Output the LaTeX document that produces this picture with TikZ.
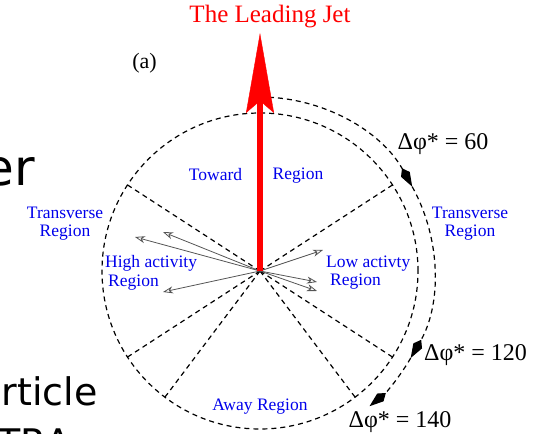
\documentclass[tikz,border=0pt]{standalone}
\usepackage{fontspec}
\setmainfont{Liberation Serif}
\newfontfamily\slidefont{DejaVu Sans}
\usetikzlibrary{arrows.meta}
\definecolor{jetred}{RGB}{255,0,0}
\definecolor{regionblue}{RGB}{0,0,235}
\definecolor{trackgray}{RGB}{85,85,85}

\begin{document}
\begin{tikzpicture}[
    x=1pt, y=1pt,
    line join=round,
    lbl/.style={font=\fontsize{17.5}{18.5}\selectfont, text=regionblue, inner sep=0pt},
    dphi/.style={font=\fontsize{24}{28}\selectfont, inner sep=0pt, anchor=base},
    slide/.style={font=\slidefont\fontsize{50}{50}\selectfont, inner sep=0pt},
    boundary/.style={dash pattern=on 5pt off 4pt, line width=1.2pt},
    track/.style={trackgray, line width=0.8pt,
        -{Stealth[open, length=10pt, width=7pt, inset=3pt]}},
    sweep/.style={boundary, -{Kite[length=21pt, width=10pt, inset=7pt]}},
]

% ── Adjustable parameters ───────────────────────────────────────────────────
\def\Rin{158}   % radius of the region circle [pt]
\def\Rout{174}  % radius of the delta-phi sweep [pt]
\def\thb{33}    % region boundaries above/below horizontal [degrees]

\useasboundingbox (-260,-162) rectangle (274,271);
\clip (-260,-162) rectangle (274,271);

% Jet axis origin = centre of the circle
\coordinate (O) at (0,0);

% ── Left-over slide text ────────────────────────────────────────────────────
\node[slide, anchor=base east] (er) at (-225,85) {er};
\node[slide, font=\slidefont\fontsize{38}{38}\selectfont, anchor=base east]
    (article) at (-162,-134) {rticle};
\node[slide, font=\slidefont\fontsize{38}{38}\selectfont, anchor=base west]
    (tra) at (-263,-185) {TRA};

% ── Region circle and boundaries ────────────────────────────────────────────
\draw[boundary] (O) circle[radius=\Rin];
\foreach \a [count=\i] in {\thb, 180-\thb, 180+\thb, -\thb, 233, -53} {
    \coordinate (B\i) at ({\a}:\Rin);
    \draw[boundary] (O) -- (B\i);
}

% ── Delta-phi sweep ─────────────────────────────────────────────────────────
\coordinate (S0) at (90:\Rout);
\draw[sweep] (S0) arc[start angle=90, end angle=29, radius=\Rout]
    coordinate (S60);
\draw[sweep] (S60) arc[start angle=29, end angle=-30, radius=\Rout]
    coordinate (S120);
\draw[sweep] (S120) arc[start angle=-30, end angle=-51, radius=\Rout]
    coordinate (S140);

% ── Particle tracks ─────────────────────────────────────────────────────────
\coordinate (L1) at (-125,34);
\coordinate (L2) at (-97,39);
\coordinate (L3) at (-97,-21);
\coordinate (R1) at (63,21);
\coordinate (R2) at (57,-11);
\coordinate (R3) at (57,-20);
\foreach \t in {L1,L2,L3,R1,R2,R3}
    \draw[track] (O) -- (\t);

% ── Leading jet ─────────────────────────────────────────────────────────────
\coordinate (J) at (0,238);
\draw[jetred, line width=6pt,
    -{Stealth[length=80pt, width=28pt, inset=12pt, line width=0.4pt]}]
    (O) -- (J);
\node[font=\fontsize{25}{28}\selectfont, text=jetred, anchor=base,
    inner sep=0pt] (jet) at (10,248) {The Leading Jet};
\node[font=\fontsize{22}{26}\selectfont, anchor=base, inner sep=0pt]
    (panel) at (-115.5,202) {(a)};

% ── Region labels ───────────────────────────────────────────────────────────
\node[lbl, anchor=base] (toward) at (-44.5,90) {Toward};
\node[lbl, anchor=base] (towardR) at (38,91) {Region};
\node[lbl, align=center] (transL) at (-195,47.4) {Transverse\\Region};
\node[lbl, align=center] (transR) at (210,47.4) {Transverse\\Region};
\node[lbl, align=left, anchor=west] (high) at (-155,-1.8)
    {High activity\\\hspace*{3pt}Region};
\node[lbl, align=left, anchor=west] (low) at (66,-1.8)
    {Low activty\\\hspace*{4pt}Region};
\node[lbl, anchor=base] (away) at (0,-139) {Away Region};

% ── Sweep labels ────────────────────────────────────────────────────────────
\node[dphi] (d60) at (183,121) {Δφ* = 60};
\node[dphi] (d120) at (215.5,-89) {Δφ* = 120};
\node[dphi] (d140) at (140,-156) {Δφ* = 140};

\end{tikzpicture}
\end{document}
